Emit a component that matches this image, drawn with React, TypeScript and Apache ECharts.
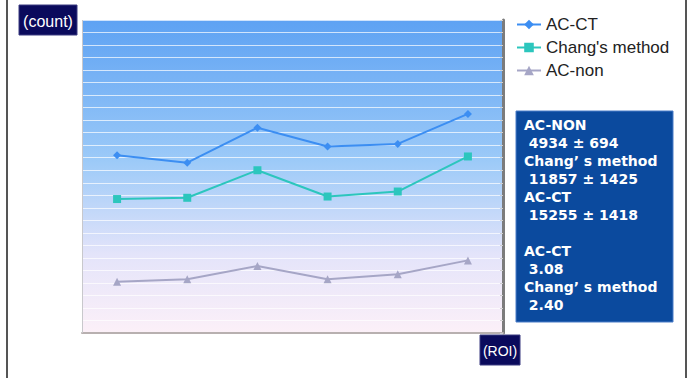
import React, { useEffect, useRef } from "react";
import * as echarts from "echarts";

const categories = ["1", "2", "3", "4", "5", "6"];
const acCT = [14200, 13600, 16400, 14900, 15100, 17500];
const chang = [10700, 10800, 13000, 10900, 11300, 14100];
const acNon = [4100, 4300, 5350, 4300, 4700, 5800];
const seriesNames = ["AC-CT", "Chang's method", "AC-non"];
const boxLines = [
  "AC-NON",
  " 4934 ± 694",
  "Chang’ s method",
  " 11857 ± 1425",
  "AC-CT",
  " 15255 ± 1418",
  "",
  "AC-CT",
  " 3.08",
  "Chang’ s method",
  " 2.40",
];

export default function App() {
  const ref = useRef<HTMLDivElement>(null);
  useEffect(() => {
    if (!ref.current) return;
    const chart = echarts.init(ref.current, undefined, { renderer: "svg" });
    chart.setOption({
      animation: false,
      backgroundColor: "#ffffff",
      grid: {
        left: 82,
        top: 20,
        width: 421,
        height: 313,
        show: true,
        borderWidth: 0,
        backgroundColor: new echarts.graphic.LinearGradient(0, 0, 0, 1, [
          { offset: 0, color: "#5ea2f3" },
          { offset: 0.45, color: "#9ccaf8" },
          { offset: 0.75, color: "#e4e4fa" },
          { offset: 1, color: "#fcf0f8" },
        ]),
      },
      legend: {
        orient: "vertical",
        left: 511,
        top: 11,
        itemWidth: 24,
        itemHeight: 12,
        itemGap: 6,
        textStyle: { fontFamily: "Liberation Sans", fontSize: 17, color: "#222" },
        data: seriesNames,
      },
      xAxis: {
        type: "category",
        data: categories,
        boundaryGap: true,
        axisLine: { show: true, lineStyle: { color: "#b8b0b0", width: 2 } },
        axisTick: { show: false },
        axisLabel: { show: false },
      },
      yAxis: {
        type: "value",
        min: 0,
        max: 25000,
        interval: 1000,
        position: "right",
        axisLine: { show: true, lineStyle: { color: "#7c7c7c", width: 3 } },
        axisTick: { show: true, inside: true, length: 3, lineStyle: { color: "#d0d0d0" } },
        axisLabel: { show: false },
        splitLine: { show: true, lineStyle: { color: "rgba(255,255,255,0.7)", width: 1 } },
      },
      series: [
        {
          name: seriesNames[0],
          type: "line",
          data: acCT,
          symbol: "diamond",
          symbolSize: 8,
          itemStyle: { color: "#3c8ef2" },
          lineStyle: { color: "#3c8ef2", width: 2 },
        },
        {
          name: seriesNames[1],
          type: "line",
          data: chang,
          symbol: "rect",
          symbolSize: 8,
          itemStyle: { color: "#2cc6bd" },
          lineStyle: { color: "#2cc6bd", width: 2 },
        },
        {
          name: seriesNames[2],
          type: "line",
          data: acNon,
          symbol: "triangle",
          symbolSize: 8,
          itemStyle: { color: "#a6a6c6" },
          lineStyle: { color: "#a6a6c6", width: 2 },
        },
      ],
      graphic: [
        { type: "rect", shape: { x: 82, y: 20, width: 1, height: 313 }, style: { fill: "#c8c8cc" }, z: 10 },
        { type: "rect", shape: { x: 6, y: 0, width: 2, height: 378 }, style: { fill: "#555" } },
        { type: "rect", shape: { x: 685, y: 0, width: 2, height: 378 }, style: { fill: "#555" } },
        {
          type: "rect",
          shape: { x: 19, y: 5, width: 58, height: 30 },
          style: { fill: "#0a0a5c", stroke: "#3a3a80", lineWidth: 1 },
        },
        {
          type: "text",
          x: 48,
          y: 21,
          style: {
            text: "(count)",
            fill: "#fff",
            font: "16px 'Liberation Sans'",
            align: "center",
            verticalAlign: "middle",
          },
        },
        {
          type: "rect",
          shape: { x: 480, y: 335, width: 40, height: 30 },
          style: { fill: "#0a0a5c", stroke: "#3a3a80", lineWidth: 1 },
        },
        {
          type: "text",
          x: 500,
          y: 351,
          style: {
            text: "(ROI)",
            fill: "#fff",
            font: "14px 'Liberation Sans Narrow', 'Liberation Sans'",
            align: "center",
            verticalAlign: "middle",
          },
        },
        {
          type: "rect",
          shape: { x: 516, y: 111, width: 157, height: 211 },
          style: { fill: "#0b4a9e", stroke: "#4a7cc8", lineWidth: 1 },
        },
        {
          type: "text",
          x: 524,
          y: 116,
          style: {
            text: boxLines.join("\n"),
            fill: "#fff",
            font: "bold 14px 'DejaVu Sans'",
            lineHeight: 18,
            align: "left",
            verticalAlign: "top",
          },
        },
      ],
    });
    return () => chart.dispose();
  }, []);
  return (
    <div
      ref={ref}
      style={{ position: "fixed", left: 0, top: 0, width: 688, height: 378 }}
    />
  );
}
